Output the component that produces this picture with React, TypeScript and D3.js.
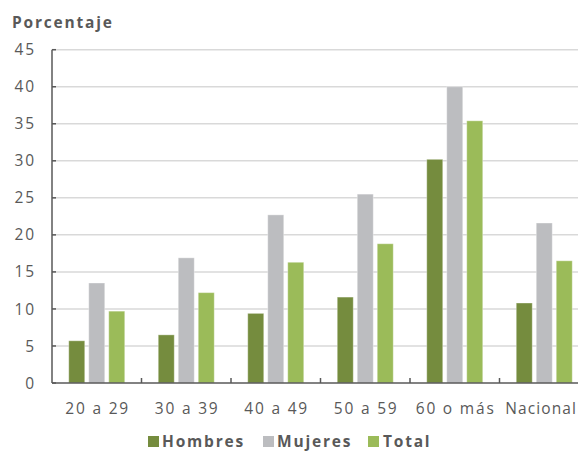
import React from "react";
import * as d3 from "d3";

const categories = ["20 a 29", "30 a 39", "40 a 49", "50 a 59", "60 o más", "Nacional"];
const seriesNames = ["Hombres", "Mujeres", "Total"];
const hombres = [5.7, 6.5, 9.4, 11.6, 30.2, 10.8];
const mujeres = [13.5, 16.9, 22.7, 25.5, 40.0, 21.6];
const total = [9.7, 12.2, 16.3, 18.8, 35.4, 16.5];
const yTicks = [0, 5, 10, 15, 20, 25, 30, 35, 40, 45];
const colors = ["#758c3e", "#bcbdc0", "#9bbb59"];

const W = 578, H = 451;
const left = 52, right = 589, top = 49.7, bottom = 383;
const font = "'Open Sans', sans-serif";
const textColor = "#595959";
const ls = 1.8;

export default function App() {
  const series = [hombres, mujeres, total];
  const x = d3.scaleBand().domain(categories).range([left, right]).paddingInner(0).paddingOuter(0);
  const xs = d3.scaleBand().domain(seriesNames).range([0, 56]).paddingInner(0.2).paddingOuter(0);
  const y = d3.scaleLinear().domain([0, 45]).range([bottom, top]);
  const groupW = 56;
  const legend = [
    { name: "Hombres", sx: 148, tx: 162 },
    { name: "Mujeres", sx: 263, tx: 277 },
    { name: "Total", sx: 368, tx: 383 },
  ];
  return (
    <div style={{ position: "absolute", left: 0, top: 0, width: W, height: H, background: "#fff" }}>
      <svg width={W} height={H} style={{ display: "block" }}>
        <text x={12} y={28} fontFamily={font} fontWeight="bold" fontSize={15.5} letterSpacing={ls} fill={textColor}>Porcentaje</text>
        {yTicks.map((t) => (
          <g key={t}>
            {t > 0 && <line x1={left} x2={W} y1={y(t)} y2={y(t)} stroke="#d9d9d9" strokeWidth={1.5} />}
            <line x1={left} x2={left + 4} y1={y(t)} y2={y(t)} stroke={textColor} strokeWidth={1.5} />
            <text x={34 + ls} y={y(t)} dy="0.36em" textAnchor="end" fontFamily={font} fontSize={15.5} letterSpacing={ls} fill={textColor}>{t}</text>
          </g>
        ))}
        {categories.map((c, i) => {
          const last = i === categories.length - 1;
          return (
            <g key={c}>
              {series.map((s, j) => {
                const bx = (x(c) as number) + (x.bandwidth() - groupW) / 2 + (xs(seriesNames[j]) as number);
                return (
                  <rect key={j} x={bx} y={y(s[i])} width={xs.bandwidth()} height={bottom - y(s[i])}
                    fill={colors[j]} stroke="#ffffff" strokeOpacity={0.35} strokeWidth={1} />
                );
              })}
              {last ? (
                <text x={W - 1} y={414} textAnchor="end" fontFamily={font} fontSize={15.5} letterSpacing={1.1} fill={textColor}>{c}</text>
              ) : (
                <text x={(x(c) as number) + x.bandwidth() / 2 + ls / 2} y={414} textAnchor="middle" fontFamily={font} fontSize={15.5} letterSpacing={ls} fill={textColor}>{c}</text>
              )}
              {i > 0 && <line x1={x(c)} x2={x(c)} y1={bottom} y2={bottom - 5} stroke={textColor} strokeWidth={1.5} />}
            </g>
          );
        })}
        <line x1={left} x2={W} y1={bottom} y2={bottom} stroke={textColor} strokeWidth={1.5} />
        <line x1={left} x2={left} y1={top} y2={bottom} stroke={textColor} strokeWidth={1.5} />
        {legend.map((l, j) => (
          <g key={l.name}>
            <rect x={l.sx} y={436} width={11} height={11} fill={colors[j]} />
            <text x={l.tx} y={447} fontFamily={font} fontWeight="bold" fontSize={15.5} letterSpacing={ls} fill={textColor}>{l.name}</text>
          </g>
        ))}
      </svg>
    </div>
  );
}
